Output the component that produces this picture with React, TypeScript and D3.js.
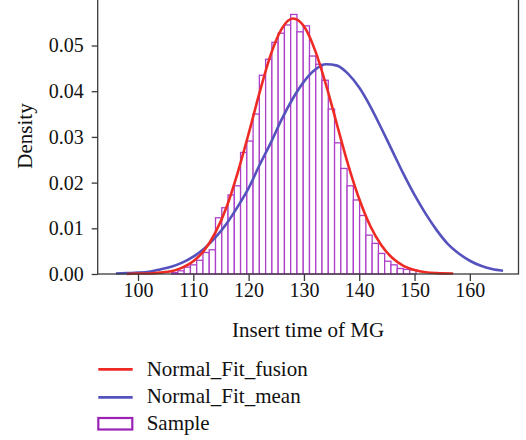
import React, { Component } from 'react';
import * as d3 from 'd3';

// histogram of the sample (density per bin)
const binStart = 106.08;
const binWidth = 1.133;
const sampleDensity = [
  0.0003, 0.0007, 0.0015, 0.002, 0.003, 0.0047, 0.0053, 0.0123, 0.0145, 0.0173,
  0.0193, 0.0266, 0.0291, 0.035, 0.0435, 0.047, 0.0507, 0.0527, 0.0545, 0.0568,
  0.053, 0.0543, 0.0477, 0.0459, 0.0424, 0.0361, 0.0287, 0.0231, 0.0193, 0.0162,
  0.0128, 0.0085, 0.0067, 0.0045, 0.0028, 0.002, 0.0012, 0.001, 0.0009
];

// Normal_Fit_fusion curve
const fusionX = [98, 100, 102, 104, 106, 108, 110, 112, 114, 116, 118, 120, 122, 124, 126, 128,
  130, 132, 134, 136, 138, 140, 142, 144, 146, 148, 150, 152, 154, 157];
const fusionY = [0.0, 0.0001, 0.0001, 0.0003, 0.0006, 0.0014, 0.0028, 0.0052, 0.0091, 0.0146,
  0.0221, 0.0307, 0.0398, 0.048, 0.0537, 0.0559, 0.0542, 0.049, 0.0414, 0.0326, 0.0239, 0.0164,
  0.0105, 0.0063, 0.0035, 0.0018, 0.0009, 0.0004, 0.0002, 0.0001];

// Normal_Fit_mean curve
const meanX = [96, 98, 100, 102, 104, 106, 108, 110, 112, 114, 116, 118, 120, 122, 124, 126, 128,
  130, 132, 134, 136, 138, 140, 142, 144, 146, 148, 150, 152, 154, 156, 158, 160, 162, 164, 166];
const meanY = [0.0001, 0.0002, 0.0003, 0.0005, 0.001, 0.0016, 0.0025, 0.0038, 0.0056, 0.008,
  0.011, 0.0147, 0.0188, 0.0239, 0.0287, 0.0339, 0.0384, 0.0421, 0.0447, 0.0459, 0.0456, 0.0438,
  0.0408, 0.0367, 0.0319, 0.0269, 0.0219, 0.0173, 0.0132, 0.0096, 0.0066, 0.0045, 0.0029,
  0.0018, 0.0011, 0.0007];

const xTicks = [100, 110, 120, 130, 140, 150, 160];
const yTicks = [0, 0.01, 0.02, 0.03, 0.04, 0.05];
const legendLabels = ['Normal_Fit_fusion', 'Normal_Fit_mean', 'Sample'];

const RED = '#ee2a24';
const BLUE = '#5552be';
const PURPLE = '#ad3fc8';
const FONT = '"Liberation Serif", "Times New Roman", serif';

class Chart extends Component<any> {
  node: any;

  componentDidMount() {
    this.renderChart();
  }

  renderChart() {
    d3.select(this.node).selectAll('*').remove();
    const svg = d3.select(this.node).append('svg')
      .attr('width', 526)
      .attr('height', 440)
      .style('position', 'absolute')
      .style('left', 0)
      .style('top', 0)
      .style('font-family', FONT);

    const left = 97.7, right = 518.5, top = -2, bottom = 274;

    const x = d3.scaleLinear().domain([92.71, 168.8]).range([left, right]);
    const y = d3.scaleLinear().domain([0, 0.0604]).range([bottom, top]);

    // histogram bars
    svg.append('g')
      .selectAll('rect')
      .data(sampleDensity)
      .enter()
      .append('rect')
        .attr('x', function (d, i) { return x(binStart + i * binWidth); })
        .attr('y', function (d) { return y(d); })
        .attr('width', function (d, i) { return x(binStart + (i + 1) * binWidth) - x(binStart + i * binWidth); })
        .attr('height', function (d) { return y(0) - y(d); })
        .attr('fill', '#fff')
        .attr('stroke', PURPLE)
        .attr('stroke-width', 1.3);

    const line = d3.line<number>()
      .curve(d3.curveMonotoneX);

    svg.append('path')
      .attr('d', line.x(function (d, i) { return x(meanX[i]); }).y(function (d) { return y(d); })(meanY))
      .attr('fill', 'none')
      .attr('stroke', BLUE)
      .attr('stroke-width', 2.6);

    svg.append('path')
      .attr('d', line.x(function (d, i) { return x(fusionX[i]); }).y(function (d) { return y(d); })(fusionY))
      .attr('fill', 'none')
      .attr('stroke', RED)
      .attr('stroke-width', 2.6);

    // frame
    svg.append('rect')
      .attr('x', left)
      .attr('y', top)
      .attr('width', right - left)
      .attr('height', bottom - top)
      .attr('fill', 'none')
      .attr('stroke', '#3a3a3a')
      .attr('stroke-width', 1.3);

    const xAxis = d3.axisBottom(x).tickValues(xTicks).tickSize(7).tickSizeOuter(0).tickPadding(2);
    const yAxis = d3.axisLeft(y).tickValues(yTicks).tickSize(6).tickSizeOuter(0).tickPadding(8)
      .tickFormat(d3.format('.2f'));

    const gx = svg.append('g').attr('transform', `translate(0, ${bottom})`).call(xAxis);
    const gy = svg.append('g').attr('transform', `translate(${left}, 0)`).call(yAxis);

    [gx, gy].forEach(function (g) {
      g.select('.domain').remove();
      g.selectAll('line').attr('stroke', '#3a3a3a').attr('stroke-width', 1.3);
      g.selectAll('text').attr('fill', '#111').style('font-size', '20px').style('font-family', FONT);
    });

    svg.append('text')
      .attr('x', (left + right) / 2)
      .attr('y', 336.5)
      .attr('text-anchor', 'middle')
      .attr('fill', '#111')
      .style('font-size', '21px')
      .text('Insert time of MG');

    svg.append('text')
      .attr('transform', 'translate(32, 136) rotate(-90)')
      .attr('text-anchor', 'middle')
      .attr('fill', '#111')
      .style('font-size', '21px')
      .text('Density');

    // legend
    const lg = svg.append('g');
    lg.append('line').attr('x1', 98.3).attr('x2', 132.7).attr('y1', 369.3).attr('y2', 369.3)
      .attr('stroke', RED).attr('stroke-width', 2.8);
    lg.append('line').attr('x1', 98.3).attr('x2', 132.7).attr('y1', 397.3).attr('y2', 397.3)
      .attr('stroke', BLUE).attr('stroke-width', 2.8);
    lg.append('rect').attr('x', 98.3).attr('y', 418).attr('width', 34).attr('height', 11.5)
      .attr('fill', '#fff').attr('stroke', '#9c22b6').attr('stroke-width', 2.2);

    lg.selectAll('text.leg')
      .data(legendLabels)
      .enter()
      .append('text')
        .attr('class', 'leg')
        .attr('x', 146.7)
        .attr('y', function (d, i) { return [376, 403.3, 429.5][i]; })
        .attr('fill', '#111')
        .style('font-size', '21px')
        .text(function (d) { return d; });
  }

  render() {
    return (
      <div ref={node => { this.node = node; }}></div>
    );
  }
}

export default function App() {
  return <Chart />;
}
